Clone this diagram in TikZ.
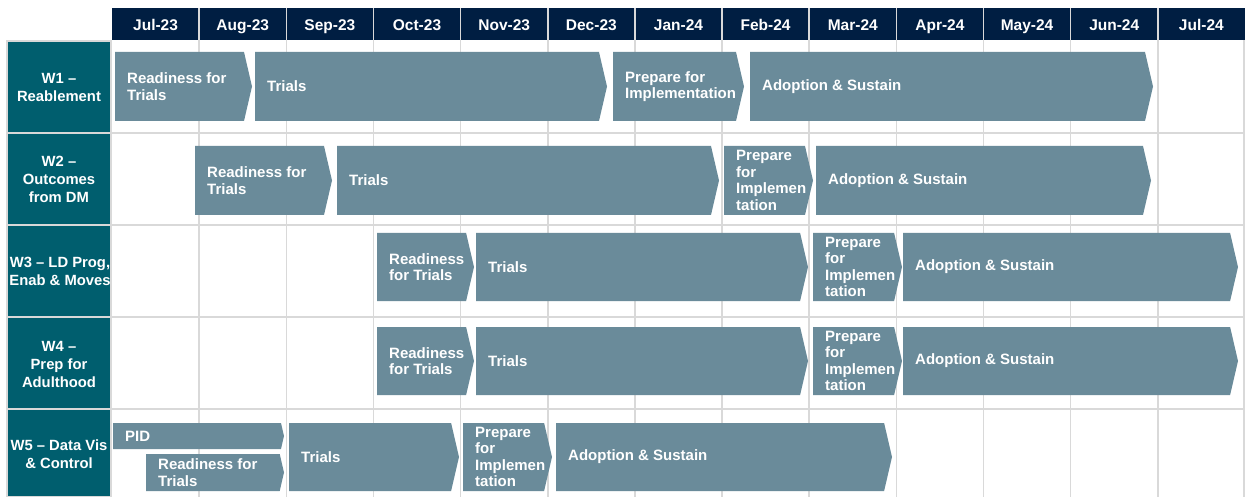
\documentclass[tikz,border=0pt]{standalone}
\usepackage{fontspec}
\setmainfont{Liberation Sans}
\usetikzlibrary{calc}
\usepackage{xcolor}

\definecolor{navy}{HTML}{001E42}
\definecolor{tealbox}{HTML}{005E6E}
\definecolor{barfill}{HTML}{6A8B9A}
\definecolor{gridgray}{HTML}{D9D9D9}

% fase: name, x left, x tip, y top, y bottom, text
\newcommand{\fase}[6]{%
  \pgfmathsetmacro{\tipd}{0.116*(#5-#4)}
  \fill[barfill] (#2,#4) -- ({#3-\tipd},#4) -- (#3,{(#4+#5)/2}) -- ({#3-\tipd},#5) -- (#2,#5) -- cycle;
  \node[bartxt] (#1) at ({#2+12},{(#4+#5)/2}) {#6};
}

\begin{document}
\begin{tikzpicture}[
  x=1pt, y=-1pt,
  mes/.style={text=white, inner sep=0pt, anchor=base, font=\bfseries\fontsize{15.5}{18}\selectfont},
  lbl/.style={text=white, inner sep=0pt, align=center, font=\bfseries\fontsize{14.8}{18}\selectfont},
  bartxt/.style={text=white, anchor=west, align=left, inner sep=0pt, font=\bfseries\fontsize{15}{16.5}\selectfont},
  rejilla/.style={gridgray, line width=1.5pt}
]
\useasboundingbox (0,0) rectangle (1245,497);

% cabecera de meses
\fill[navy] (112,8) rectangle (1245,40);
\foreach \m [count=\i from 0] in {Jul-23,Aug-23,Sep-23,Oct-23,Nov-23,Dec-23,Jan-24,Feb-24,Mar-24,Apr-24,May-24,Jun-24,Jul-24}
  \node[mes] (m\i) at ({112+87.15*(\i+0.5)},30.5) {\m};

% rejilla
\foreach \i in {1,...,12}
  \draw[rejilla] ({112+87.15*\i},8) -- ({112+87.15*\i},497);
\draw[rejilla] (1244,40) -- (1244,497);
\foreach \y in {133,225,317,409}
  \draw[rejilla] (7,\y) -- (1245,\y);

% etiquetas de filas
\foreach \t/\b in {41/133,133/225,225/317,317/409,409/497}
  \filldraw[fill=tealbox, draw=gridgray, line width=1.2pt] (7,\t) rectangle (111,\b);
\node[lbl] (w1) at (59,87) {W1 –\\Reablement};
\node[lbl] (w2) at (59,179) {W2 –\\Outcomes\\from DM};
\node[lbl] (w3) at (60,271) {W3 – LD Prog,\\Enab \& Moves};
\node[lbl] (w4) at (59,364) {W4 –\\Prep for\\Adulthood};
\node[lbl] (w5) at (59,454) {W5 – Data Vis\\\& Control};

% W1
\fase{r1a}{115}{252}{52}{121}{Readiness for\\Trials}
\fase{r1b}{255}{607}{52}{121}{Trials}
\fase{r1c}{613}{744}{52}{121}{Prepare for\\Implementation}
\fase{r1d}{750}{1153}{52}{121}{Adoption \& Sustain}
% W2
\fase{r2a}{195}{332}{146}{215}{Readiness for\\Trials}
\fase{r2b}{337}{719}{146}{215}{Trials}
\fase{r2c}{724}{813}{146}{215}{Prepare\\for\\Implemen\\tation}
\fase{r2d}{816}{1151}{146}{215}{Adoption \& Sustain}
% W3
\fase{r3a}{377}{474}{233}{301}{Readiness\\for Trials}
\fase{r3b}{476}{808}{233}{301}{Trials}
\fase{r3c}{813}{902}{233}{301}{Prepare\\for\\Implemen\\tation}
\fase{r3d}{903}{1238}{233}{301}{Adoption \& Sustain}
% W4
\fase{r4a}{377}{474}{327}{395}{Readiness\\for Trials}
\fase{r4b}{476}{808}{327}{395}{Trials}
\fase{r4c}{813}{902}{327}{395}{Prepare\\for\\Implemen\\tation}
\fase{r4d}{903}{1238}{327}{395}{Adoption \& Sustain}
% W5
\fase{r5a}{113}{284}{423}{449}{PID}
\fase{r5b}{146}{284}{454}{491}{Readiness for\\Trials}
\fase{r5c}{289}{459}{423}{491}{Trials}
\fase{r5d}{463}{552}{423}{491}{Prepare\\for\\Implemen\\tation}
\fase{r5e}{556}{892}{423}{491}{Adoption \& Sustain}
\end{tikzpicture}
\end{document}
